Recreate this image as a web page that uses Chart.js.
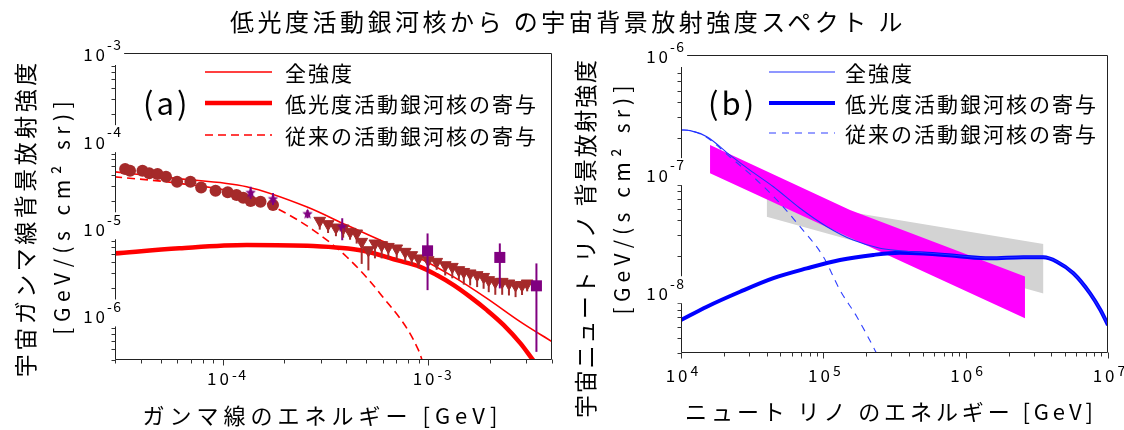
<!DOCTYPE html>
<html><head><meta charset="utf-8">
<script src="https://cdn.jsdelivr.net/npm/chart.js@4/dist/chart.umd.min.js"></script>
<style>
html,body{margin:0;padding:0;background:#fff;}
#wrap{position:relative;width:1124px;height:430px;overflow:hidden;background:#fff;}
canvas{position:absolute;top:0;}
#title{position:absolute;left:12px;top:6px;width:1112px;line-height:30px;text-align:center;font-family:'Noto Sans CJK JP',sans-serif;font-size:24px;letter-spacing:3.5px;color:#000;white-space:pre;}
</style></head><body>
<div id="wrap">
<canvas id="c1" width="562" height="430" style="left:0"></canvas>
<canvas id="c2" width="562" height="430" style="left:562px"></canvas>
<div id="title">低光度活動銀河核から の宇宙背景放射強度スペクト ル</div>
</div>
<script>
// ================= DATA: (a) gamma-ray background =================
const gammaXTicks = [1e-4, 1e-3];
const gammaYTicks = [1e-6, 1e-5, 1e-4, 1e-3];
// brown circles
const gammaCircleE = [3.36e-5,3.55e-5,4.08e-5,4.40e-5,4.83e-5,5.31e-5,6.01e-5,6.98e-5,7.87e-5,9.25e-5,1.06e-4,1.17e-4,1.26e-4,1.37e-4,1.53e-4,1.76e-4];
const gammaCircleI = [4.66e-5,4.45e-5,4.45e-5,4.16e-5,4.08e-5,3.80e-5,3.33e-5,3.33e-5,2.87e-5,2.62e-5,2.52e-5,2.34e-5,2.18e-5,2.00e-5,1.96e-5,1.80e-5];
// purple stars
const gammaStarE  = [1.37e-4,1.76e-4,2.59e-4,3.82e-4];
const gammaStarI  = [2.49e-5,2.11e-5,1.42e-5,1.01e-5];
const gammaStarLo = [2.12e-5,1.80e-5,1.27e-5,7.1e-6];
const gammaStarHi = [2.92e-5,2.47e-5,1.58e-5,1.27e-5];
// brown down-triangles
const gammaTriE  = [2.97e-4,3.26e-4,3.56e-4,3.86e-4,4.17e-4,4.49e-4,4.75e-4,5.12e-4,5.51e-4,5.94e-4,6.40e-4,7.03e-4,7.73e-4,8.32e-4,8.97e-4,1.00e-3,1.10e-3,1.21e-3,1.31e-3,1.41e-3,1.49e-3,1.60e-3,1.73e-3,1.86e-3,1.97e-3,2.12e-3,2.29e-3,2.47e-3,2.66e-3,2.86e-3,3.03e-3];
const gammaTriI  = [1.19e-5,1.09e-5,9.97e-6,9.7e-6,8.88e-6,8.51e-6,6.82e-6,5.47e-6,6.53e-6,6.25e-6,5.97e-6,5.73e-6,5.24e-6,4.8e-6,4.4e-6,4.2e-6,4.02e-6,3.68e-6,3.52e-6,3.23e-6,3.08e-6,2.96e-6,2.83e-6,2.70e-6,2.48e-6,2.37e-6,2.37e-6,2.27e-6,2.17e-6,2.17e-6,2.27e-6];
const gammaTriLo = [9.4e-6,8.6e-6,7.9e-6,7.6e-6,7.2e-6,6.5e-6,3.8e-6,3.2e-6,4.4e-6,4.4e-6,4.3e-6,4.2e-6,4.0e-6,3.7e-6,3.4e-6,3.2e-6,3.25e-6,2.8e-6,2.6e-6,2.5e-6,2.2e-6,2.15e-6,2.06e-6,1.97e-6,1.8e-6,1.68e-6,1.68e-6,1.65e-6,1.58e-6,1.67e-6,1.84e-6];
// purple squares
const gammaSqE  = [9.93e-4,2.23e-3,3.36e-3];
const gammaSqI  = [5.37e-6,4.51e-6,2.13e-6];
const gammaSqLo = [1.9e-6,1.99e-6,3.72e-7];
const gammaSqHi = [8.5e-6,6.53e-6,3.85e-6];
// model curves
const gammaTotalE = [2.97e-5,5.94e-5,1.31e-4,2.56e-4,4.01e-4,5.83e-4,8.48e-4,1.33e-3,1.93e-3,2.81e-3,4.01e-3];
const gammaTotalI = [4.34e-5,3.64e-5,2.92e-5,1.72e-5,1.06e-5,7.13e-6,4.8e-6,2.70e-6,1.53e-6,8.22e-7,4.85e-7];
const gammaLLE = [2.97e-5,6.17e-5,1.31e-4,2.76e-4,4.83e-4,7.03e-4,9.14e-4,1.10e-3,1.33e-3,1.60e-3,1.93e-3,2.33e-3,2.81e-3,3.15e-3,3.72e-3];
const gammaLLI = [5.01e-6,5.73e-6,6.25e-6,6.08e-6,5.37e-6,4.2e-6,3.52e-6,2.83e-6,2.17e-6,1.59e-6,1.12e-6,7.54e-7,4.65e-7,3.26e-7,1.91e-7];
const gammaConvE = [2.97e-5,6.17e-5,1.31e-4,1.90e-4,2.76e-4,4.01e-4,5.83e-4,8.97e-4,9.67e-4];
const gammaConvI = [3.80e-5,3.19e-5,2.34e-5,1.58e-5,9.29e-6,4.59e-6,1.74e-6,3.89e-7,2.29e-7];

// ================= DATA: (b) neutrino background =================
const nuXTicks = [1e4, 1e5, 1e6, 1e7];
const nuYTicks = [1e-8, 1e-7, 1e-6];
const nuTotalE = [1e4,1.16e4,1.52e4,2.21e4,3.05e4,4.46e4,6.86e4,1.06e5,1.62e5,2.50e5,3.46e5,5.05e5,8.65e5,1.48e6,2.54e6,3.52e6,4.37e6,5.71e6,7.48e6,8.85e6,1.0e7];
const nuTotalI = [2.32e-7,2.29e-7,2.03e-7,1.42e-7,1.06e-7,7.67e-8,5.04e-8,3.52e-8,2.71e-8,2.31e-8,2.20e-8,2.12e-8,2.01e-8,1.91e-8,1.95e-8,1.95e-8,1.79e-8,1.42e-8,9.6e-9,6.93e-9,5.17e-9];
const nuLLE = [1e4,1.52e4,2.60e4,4.46e4,7.64e4,1.31e5,2.24e5,3.46e5,5.05e5,8.65e5,1.48e6,2.54e6,3.52e6,4.37e6,5.71e6,7.48e6,8.85e6,1.0e7];
const nuLLI = [5.70e-9,7.40e-9,9.9e-9,1.29e-8,1.56e-8,1.84e-8,2.03e-8,2.12e-8,2.09e-8,1.99e-8,1.90e-8,1.94e-8,1.94e-8,1.78e-8,1.42e-8,9.6e-9,6.93e-9,5.17e-9];
const nuConvE = [1e4,1.16e4,1.52e4,2.21e4,3.40e4,4.96e4,6.86e4,1e5,1.31e5,1.72e5,2.24e5,2.5e5];
const nuConvI = [2.32e-7,2.29e-7,2.0e-7,1.37e-7,8.74e-8,5.55e-8,3.52e-8,1.96e-8,1.02e-8,6.08e-9,3.39e-9,2.61e-9];
// magenta band (IceCube)
const iceE  = [1.60e4,1.54e5,2.61e6];
const iceHi = [1.73e-7,4.88e-8,1.33e-8];
const iceLo = [9.96e-8,2.84e-8,5.9e-9];
// gray band
const grayE  = [4.0e4,3.52e6];
const grayHi = [6.12e-8,2.51e-8];
const grayLo = [4.28e-8,9.59e-9];

// ================= TEXT =================
const legendTexts = ['全強度','低光度活動銀河核の寄与','従来の活動銀河核の寄与'];
const gammaYTitle = ['宇宙ガンマ線背景放射強度','[GeV/(s cm² sr)]'];
const gammaXTitle = 'ガンマ線のエネルギー [GeV]';
const nuYTitle = ['宇宙ニュート リノ 背景放射強度','[GeV/(s cm² sr)]'];
const nuXTitle = 'ニュート リノ のエネルギー [GeV]';

// ================= helpers =================
const FONT = "'Noto Sans CJK JP','Noto Sans',sans-serif";
const BROWN = 'rgb(165,42,42)';
const PURPLE = '#800080';
const pts = (xs, ys) => xs.map((x, i) => ({x, y: ys[i]}));

function spacedWidth(ctx, text, sp){ let w = 0, n = 0; for (const ch of text){ w += ctx.measureText(ch).width; n++; } return w + sp * Math.max(0, n - 1); }
function drawSpaced(ctx, text, x, y, sp, align){
  const w = spacedWidth(ctx, text, sp);
  let cx = align === 'center' ? x - w / 2 : (align === 'right' ? x - w : x);
  ctx.textAlign = 'left';
  for (const ch of text){ ctx.fillText(ch, cx, y); cx += ctx.measureText(ch).width + sp; }
  return w;
}
function drawRotated(ctx, text, cx, cy, sp){
  ctx.save(); ctx.translate(cx, cy); ctx.rotate(-Math.PI / 2); ctx.textBaseline = 'middle';
  drawSpaced(ctx, text, 0, 0, sp, 'center'); ctx.restore();
}
function makeStar(r, color){
  const s = Math.ceil(2 * r + 2), c = document.createElement('canvas'); c.width = s; c.height = s;
  const g = c.getContext('2d'); g.fillStyle = color; g.beginPath();
  for (let i = 0; i < 10; i++){ const a = -Math.PI / 2 + i * Math.PI / 5, rr = i % 2 === 0 ? r : r * 0.45; g.lineTo(s / 2 + rr * Math.cos(a), s / 2 + rr * Math.sin(a)); }
  g.closePath(); g.fill(); return c;
}

function panelPlugin(o){
  return {
    id: 'panel' + o.tag,
    afterDatasetsDraw(chart){
      const ctx = chart.ctx, a = chart.chartArea, xs = chart.scales.x, ys = chart.scales.y;
      ctx.save();
      ctx.beginPath(); ctx.rect(a.left, a.top, a.right - a.left, a.bottom - a.top); ctx.clip();
      (o.errs || []).forEach(e => {
        ctx.strokeStyle = e.color; ctx.lineWidth = e.w;
        e.E.forEach((v, i) => {
          const px = xs.getPixelForValue(v);
          ctx.beginPath(); ctx.moveTo(px, ys.getPixelForValue(e.lo[i])); ctx.lineTo(px, ys.getPixelForValue(e.hi[i])); ctx.stroke();
        });
      });
      ctx.restore();
    },
    afterDraw(chart){
      const ctx = chart.ctx, a = chart.chartArea, xs = chart.scales.x, ys = chart.scales.y;
      ctx.save();
      // frame
      ctx.strokeStyle = '#222'; ctx.lineWidth = 1;
      const L = Math.round(a.left) + 0.5, R = Math.round(a.right) - 0.5, T = Math.round(a.top) + 0.5, B = Math.round(a.bottom) - 0.5;
      ctx.beginPath(); ctx.moveTo(L, T); ctx.lineTo(R, T); ctx.lineTo(R, B); ctx.lineTo(L, B); ctx.closePath(); ctx.stroke();
      // minor/major ticks
      const logTicks = (min, max) => { const out = []; for (let k = Math.floor(Math.log10(min)); k <= Math.ceil(Math.log10(max)); k++) for (let m = 1; m <= 9; m++){ const v = m * Math.pow(10, k); if (v >= min * 0.999 && v <= max * 1.001) out.push([v, m === 1]); } return out; };
      ctx.strokeStyle = '#333';
      logTicks(xs.min, xs.max).forEach(([v, maj]) => { const px = Math.round(xs.getPixelForValue(v)) + 0.5; ctx.beginPath(); ctx.moveTo(px, B); ctx.lineTo(px, B + (maj ? 6 : 4)); ctx.stroke(); });
      logTicks(ys.min, ys.max).forEach(([v, maj]) => { const py = Math.round(ys.getPixelForValue(v)) + 0.5; ctx.beginPath(); ctx.moveTo(L, py); ctx.lineTo(L - (maj ? 6 : 4), py); ctx.stroke(); });
      // tick labels
      ctx.fillStyle = '#000'; ctx.textBaseline = 'middle';
      const baseFont = '17px ' + FONT, expFont = '14px ' + FONT;
      o.yTicks.forEach(v => {
        const py = ys.getPixelForValue(v), k = Math.round(Math.log10(v)), ex = String(k);
        ctx.font = baseFont; const wB = spacedWidth(ctx, '10', 3);
        ctx.font = expFont; const wE = spacedWidth(ctx, ex, 1.5);
        const right = a.left - o.yLabGap;
        ctx.fillStyle = '#fff'; ctx.fillRect(right - wB - 2, py - 15, wB + wE + 7, 27);
        ctx.fillStyle = '#000';
        ctx.font = baseFont; drawSpaced(ctx, '10', right - wB, py + 2, 3, 'left');
        ctx.font = expFont; drawSpaced(ctx, ex, right + 2, py - 8, 1.5, 'left');
      });
      o.xTicks.forEach(v => {
        const px = xs.getPixelForValue(v), k = Math.round(Math.log10(v)), ex = String(k);
        ctx.font = baseFont; const wB = spacedWidth(ctx, '10', 3);
        ctx.font = expFont; const wE = spacedWidth(ctx, ex, 1.5);
        const left = px + o.xLabShift - (wB + 3 + wE) / 2;
        ctx.font = baseFont; drawSpaced(ctx, '10', left, a.bottom + o.xLabDy, 3, 'left');
        ctx.font = expFont; drawSpaced(ctx, ex, left + wB + 3, a.bottom + o.xLabDy - o.xExpUp, 1.5, 'left');
      });
      // legend
      o.legStyles.forEach((s, i) => {
        const y = o.legY[i];
        ctx.strokeStyle = s.color; ctx.lineWidth = s.w; ctx.setLineDash(s.dash || []);
        ctx.beginPath(); ctx.moveTo(o.legX1, y); ctx.lineTo(o.legX2, y); ctx.stroke(); ctx.setLineDash([]);
        ctx.fillStyle = '#000'; ctx.font = '21px ' + FONT; ctx.textBaseline = 'middle';
        drawSpaced(ctx, legendTexts[i], o.legTX, y + 1, 2, 'left');
      });
      ctx.font = '31px ' + FONT; ctx.textBaseline = 'middle';
      drawSpaced(ctx, o.panelLabel, o.panelX, o.panelY, 3, 'left');
      // axis titles
      ctx.font = '23px ' + FONT; drawRotated(ctx, o.yTitle[0], o.yT1[0], o.yT1[1], o.yT1[2]);
      ctx.font = '21px ' + FONT; drawRotated(ctx, o.yTitle[1], o.yT2[0], o.yT2[1], o.yT2[2]);
      ctx.font = '22px ' + FONT; ctx.textBaseline = 'middle';
      drawSpaced(ctx, o.xTitle, o.xT[0], o.xT[1], o.xT[2], 'center');
      ctx.restore();
    }
  };
}

function lineDS(xs, ys, color, w, dash){
  return {type: 'line', data: pts(xs, ys), borderColor: color, backgroundColor: color, borderWidth: w, borderDash: dash || [],
    pointRadius: 0, fill: false, cubicInterpolationMode: 'monotone', clip: 0};
}
function markDS(xs, ys, style){
  return Object.assign({type: 'line', data: pts(xs, ys), showLine: false, fill: false}, style);
}
const baseOptions = (pad, xr, yr) => ({
  responsive: false, animation: false, devicePixelRatio: 1,
  layout: {padding: pad},
  plugins: {legend: {display: false}, tooltip: {enabled: false}, title: {display: false}},
  scales: {
    x: {type: 'logarithmic', display: false, min: xr[0], max: xr[1]},
    y: {type: 'logarithmic', display: false, min: yr[0], max: yr[1]}
  }
});

// ================= chart (a) =================
const starImg = makeStar(5.5, PURPLE);
new Chart(document.getElementById('c1'), {
  type: 'line',
  data: {datasets: [
    markDS(gammaSqE, gammaSqI, {pointStyle: 'rect', pointRadius: 7.8, backgroundColor: PURPLE, borderColor: PURPLE, borderWidth: 0}),
    markDS(gammaStarE, gammaStarI, {pointStyle: starImg, pointRadius: 6, backgroundColor: PURPLE, borderColor: PURPLE}),
    markDS(gammaTriE, gammaTriI, {pointStyle: 'triangle', rotation: 180, pointRadius: 6.8, backgroundColor: BROWN, borderColor: BROWN, borderWidth: 1}),
    markDS(gammaCircleE, gammaCircleI, {pointStyle: 'circle', pointRadius: 6, backgroundColor: BROWN, borderColor: BROWN, borderWidth: 0}),
    lineDS(gammaTotalE, gammaTotalI, '#ff0000', 1.6),
    lineDS(gammaLLE, gammaLLI, '#ff0000', 4.5),
    lineDS(gammaConvE, gammaConvI, '#ff0000', 1.6, [8, 5])
  ]},
  options: baseOptions({left: 115, right: 10, top: 53, bottom: 70}, [3e-5, 4e-3], [3e-7, 1e-3]),
  plugins: [panelPlugin({
    tag: 'a', xTicks: gammaXTicks, yTicks: gammaYTicks, yLabGap: 10, xLabShift: 4, xLabDy: 19, xExpUp: 4,
    errs: [
      {E: gammaStarE, lo: gammaStarLo, hi: gammaStarHi, color: PURPLE, w: 2},
      {E: gammaTriE, lo: gammaTriLo, hi: gammaTriI, color: BROWN, w: 2},
      {E: gammaSqE, lo: gammaSqLo, hi: gammaSqHi, color: PURPLE, w: 2}
    ],
    legStyles: [{color: '#ff0000', w: 1.6}, {color: '#ff0000', w: 4.5}, {color: '#ff0000', w: 1.6, dash: [8, 5]}],
    legY: [72, 103, 135], legX1: 205, legX2: 272, legTX: 285,
    panelLabel: '(a)', panelX: 143, panelY: 103,
    yTitle: gammaYTitle, yT1: [25, 220, 3.5], yT2: [62, 218, 5.5],
    xTitle: gammaXTitle, xT: [320, 416, 5]
  })]
});

// ================= chart (b) =================
new Chart(document.getElementById('c2'), {
  type: 'line',
  data: {datasets: [
    lineDS(nuTotalE, nuTotalI, '#2030ff', 1.1),
    lineDS(nuLLE, nuLLI, '#0000ff', 4),
    lineDS(nuConvE, nuConvI, '#3040ff', 1.1, [7, 6]),
    {type: 'line', data: pts(iceE, iceHi), borderWidth: 0, borderColor: 'rgba(0,0,0,0)', pointRadius: 0, tension: 0, fill: false},
    {type: 'line', data: pts(iceE, iceLo), borderWidth: 0, borderColor: 'rgba(0,0,0,0)', backgroundColor: '#ff00ff', pointRadius: 0, tension: 0, fill: '-1'},
    {type: 'line', data: pts(grayE, grayHi), borderWidth: 0, borderColor: 'rgba(0,0,0,0)', pointRadius: 0, tension: 0, fill: false},
    {type: 'line', data: pts(grayE, grayLo), borderWidth: 0, borderColor: 'rgba(0,0,0,0)', backgroundColor: '#d3d3d3', pointRadius: 0, tension: 0, fill: '-1'}
  ]},
  options: baseOptions({left: 119, right: 16, top: 55, bottom: 77}, [1e4, 1e7], [3e-9, 1e-6]),
  plugins: [panelPlugin({
    tag: 'b', xTicks: nuXTicks, yTicks: nuYTicks, yLabGap: 13, xLabShift: 1, xLabDy: 23, xExpUp: 5,
    errs: [],
    legStyles: [{color: '#2030ff', w: 1.1}, {color: '#0000ff', w: 4}, {color: '#3040ff', w: 1.1, dash: [7, 6]}],
    legY: [72, 103, 133], legX1: 207, legX2: 273, legTX: 283,
    panelLabel: '(b)', panelX: 146, panelY: 103,
    yTitle: nuYTitle, yT1: [23, 239, 1.7], yT2: [60, 200, 5.2],
    xTitle: nuXTitle, xT: [327, 412, 3.9]
  })]
});
</script>
</body></html>
